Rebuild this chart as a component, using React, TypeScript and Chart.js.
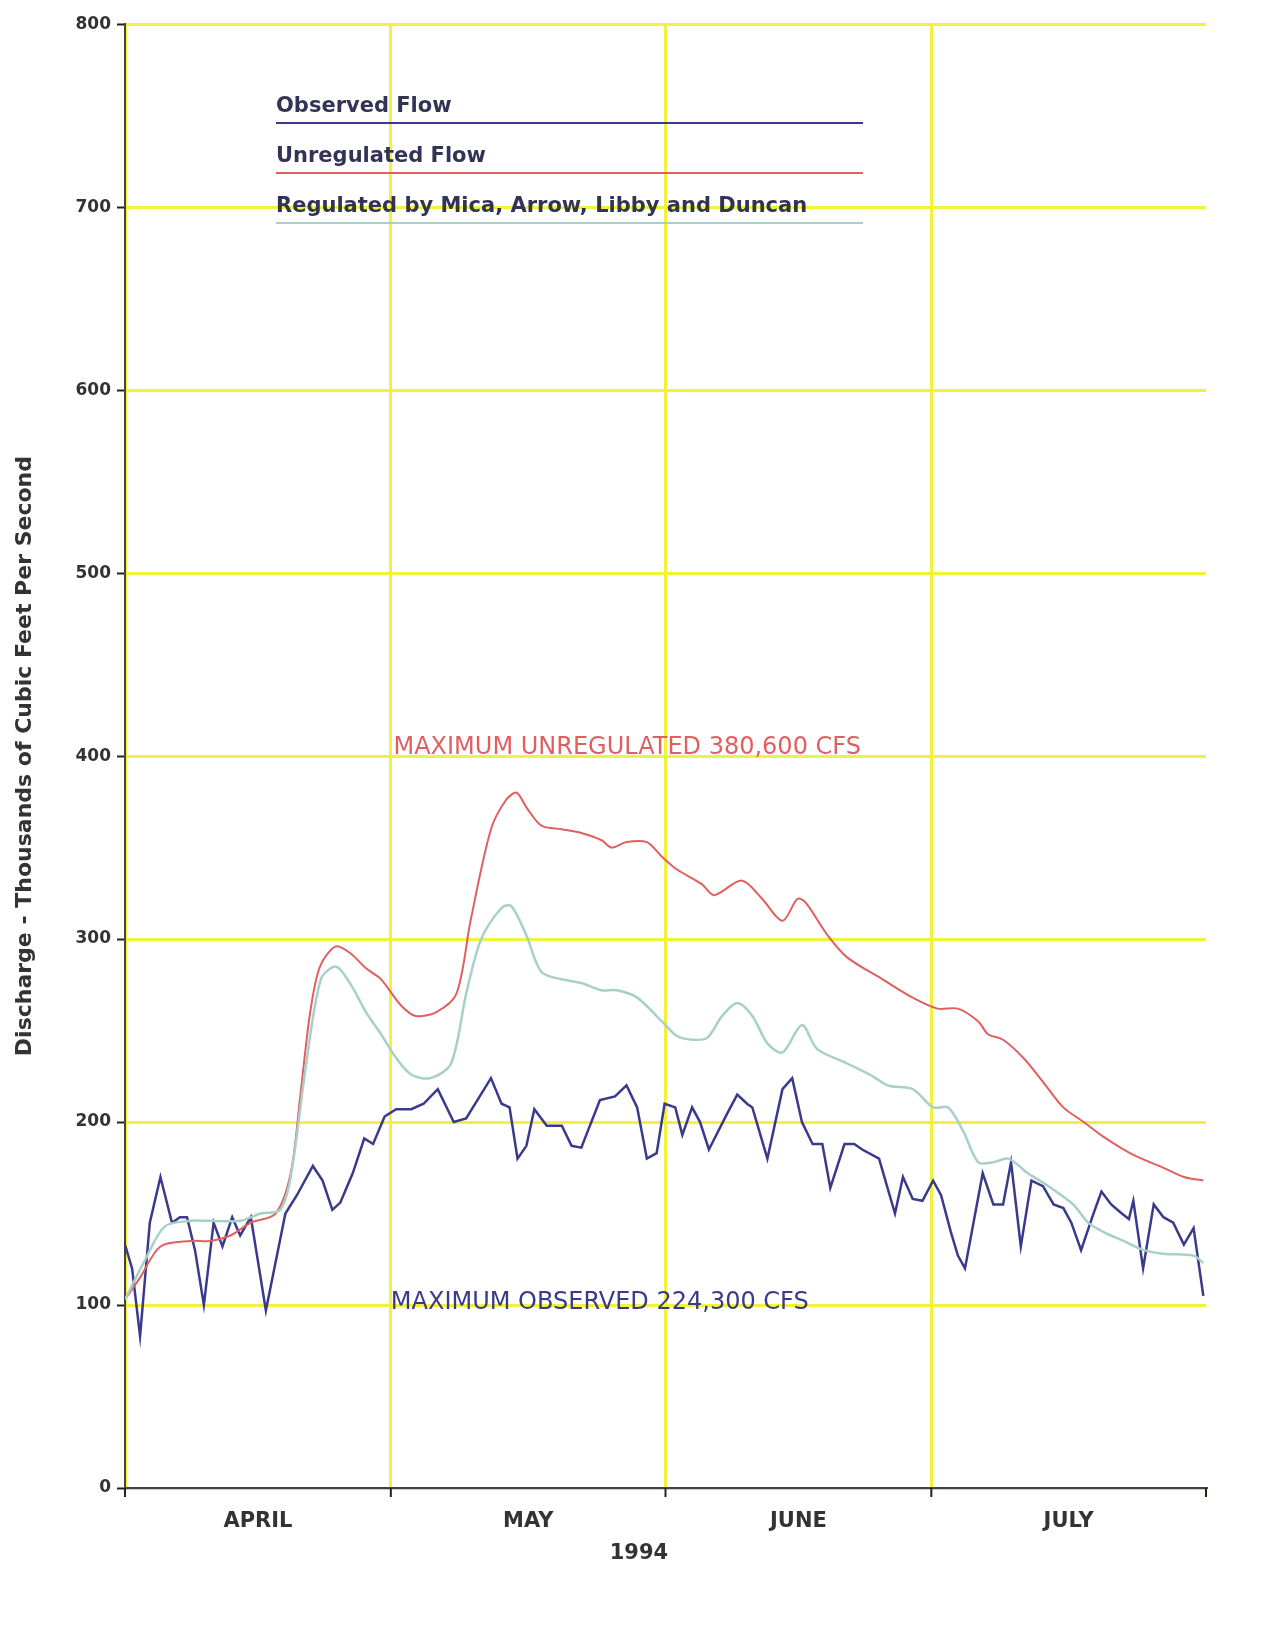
import React, { useEffect, useRef } from "react";
import { Chart, registerables } from "chart.js";
Chart.register(...registerables);

const obsDays = [0,0.8,1.7,2.8,4,5.3,6.2,7,7.9,8.9,10,11,12.1,13,14.2,15.9,18.1,19.4,21.2,22.3,23.4,24.3,25.7,27,28,29.3,30.6,32.3,33.7,35.3,37.1,38.5,41.3,42.5,43.4,44.3,45.3,46.2,47.6,49.3,50.4,51.5,53.6,55.3,56.6,57.8,58.9,60,60.9,62.1,62.9,64,64.9,65.9,68,69.1,70.2,70.8,72.5,74.2,75.3,76.4,77.6,78.7,79.6,81.2,82.3,83.2,85.1,86.9,87.8,88.9,90,91.2,92.1,93.2,94,94.8,96.8,98,99.1,100,101.1,102.3,103.6,104.8,105.9,106.8,107.9,109.3,110.2,111.3,112.5,113.3,113.8,114.9,116.1,117.2,118.3,119.5,120.6,121.7];
const obsValues = [133,120,83,145,170,145,148,148,130,100,145,132,148,138,148,97,150,160,176,168,152,156,172,191,188,203,207,207,210,218,200,202,224,210,208,180,187,207,198,198,187,186,212,214,220,208,180,183,210,208,193,208,200,185,205,215,210,208,180,218,224,200,188,188,164,188,188,185,180,150,170,158,157,168,160,140,127,120,172,155,155,178,132,168,165,155,153,145,130,150,162,155,150,147,157,120,155,148,145,133,142,105];

const unregDays = [0,1.7,4,7.4,9.6,11.9,14.2,17,18.7,19.8,20.9,22,23.8,25.5,27.2,28.9,31.1,32.8,35.1,37.4,39,41.3,43,44.2,45.3,47,49.3,51.5,53.8,54.9,56.6,58.9,60.6,62.3,65.1,66.5,69.6,71.9,74.2,75.9,76.8,79.3,81.5,85.5,88.9,91.7,94,96.3,97.4,99.1,101.4,103.6,105.9,108.2,110.4,113.8,117.2,119.5,121.7];
const unregValues = [103,115,132,135,135,138,145,150,172,215,260,285,296,292,284,278,264,258,260,270,310,360,376,380,372,362,360,358,354,350,353,353,345,338,330,324,332,322,310,322,320,302,290,278,268,262,262,255,248,245,235,222,208,200,192,182,175,170,168];

const regDays = [0,2.3,4.5,7.4,9.6,13,15.3,17.5,18.7,20.4,22.1,23.8,25.5,27.2,28.9,30.6,32.3,34.5,36.8,38.5,40.2,42.5,43.6,45.3,47,49.3,51.5,53.8,55.5,57.8,60.6,62.3,64,65.7,67.4,69.1,70.8,72.5,74.2,76.4,78.1,81.5,84.4,86.1,88.9,91.2,92.9,94.6,96.3,98,99.7,101.9,104.2,107,108.7,110.4,112.7,115,117.2,120.6,121.7];
const regValues = [103,125,143,146,146,146,150,152,170,230,278,285,275,260,248,235,226,224,232,270,300,317,318,302,282,278,276,272,272,268,255,247,245,246,258,265,258,243,238,253,240,232,225,220,218,208,208,195,178,178,180,172,165,155,145,140,135,130,128,127,123];

const monthStarts = [0, 30, 61, 91, 122];
const monthLabels = ["APRIL", "MAY", "JUNE", "JULY"];
const yTicks = [0, 100, 200, 300, 400, 500, 600, 700, 800];
const legendLabels = ["Observed Flow", "Unregulated Flow", "Regulated by Mica, Arrow, Libby and Duncan"];

const BLUE = "#3a3a8c";
const RED = "#e06060";
const GREEN = "#a8d0c8";
const FONT = "'DejaVu Sans', sans-serif";

const pts = (d: number[], v: number[]) => d.map((x, i) => ({ x, y: v[i] }));

export default function App() {
  const ref = useRef<HTMLCanvasElement>(null);
  useEffect(() => {
    const overlay = {
      id: "overlay",
      afterDraw(chart: any) {
        const { ctx, scales } = chart;
        const xs = scales.x, ys = scales.y;
        ctx.save();
        const legColors = [BLUE, RED, GREEN];
        const legY = [107, 157, 207];
        ctx.font = `bold 21px ${FONT}`;
        ctx.textBaseline = "middle";
        legendLabels.forEach((t, i) => {
          ctx.fillStyle = "#333355";
          ctx.fillText(t, 268, legY[i] - 8);
          ctx.strokeStyle = legColors[i];
          ctx.lineWidth = 2;
          ctx.beginPath();
          ctx.moveTo(268, legY[i] + 8);
          ctx.lineTo(855, legY[i] + 8);
          ctx.stroke();
        });
        ctx.font = `24px ${FONT}`;
        ctx.fillStyle = RED;
        ctx.fillText("MAXIMUM UNREGULATED 380,600 CFS", xs.getPixelForValue(30.3), ys.getPixelForValue(400) - 8);
        ctx.fillStyle = BLUE;
        ctx.fillText("MAXIMUM OBSERVED 224,300 CFS", xs.getPixelForValue(30), ys.getPixelForValue(100) - 2);
        ctx.fillStyle = "#333";
        ctx.font = `bold 21px ${FONT}`;
        ctx.textAlign = "center";
        monthLabels.forEach((m, i) => {
          const c = (monthStarts[i] + monthStarts[i + 1]) / 2;
          ctx.fillText(m, xs.getPixelForValue(c), ys.bottom + 34);
        });
        ctx.fillText("1994", xs.getPixelForValue(58), ys.bottom + 66);
        ctx.strokeStyle = "#222";
        ctx.lineWidth = 2;
        monthStarts.forEach((d) => {
          const px = xs.getPixelForValue(d);
          ctx.beginPath();
          ctx.moveTo(px, ys.bottom);
          ctx.lineTo(px, ys.bottom + 9);
          ctx.stroke();
        });
        ctx.restore();
      },
    };
    const chart = new Chart(ref.current!, {
      type: "line",
      data: {
        datasets: [
          { data: pts(regDays, regValues), borderColor: GREEN, borderWidth: 2.5, pointRadius: 0, tension: 0.3 },
          { data: pts(unregDays, unregValues), borderColor: RED, borderWidth: 2, pointRadius: 0, tension: 0.3 },
          { data: pts(obsDays, obsValues), borderColor: BLUE, borderWidth: 2.5, pointRadius: 0, tension: 0 },
        ],
      },
      options: {
        animation: false,
        responsive: false,
        layout: { padding: { top: 10, right: 52, left: 0, bottom: 0 } },
        plugins: { legend: { display: false }, tooltip: { enabled: false } },
        scales: {
          x: {
            type: "linear",
            min: 0,
            max: 122,
            afterBuildTicks: (s: any) => { s.ticks = monthStarts.map((v) => ({ value: v })); },
            afterFit: (s: any) => { s.height = 110; },
            ticks: { callback: () => "" },
            grid: { color: (c: any) => (c.tick && c.tick.value === 122 ? "rgba(0,0,0,0)" : "#f2f23a"), lineWidth: 3, drawTicks: false },
            border: { color: "#444", width: 2 },
          },
          y: {
            min: 0,
            max: 800,
            afterBuildTicks: (s: any) => { s.ticks = yTicks.map((v) => ({ value: v })); },
            afterFit: (s: any) => { s.width = 117; },
            ticks: { color: "#333", font: { family: FONT, size: 17, weight: "bold" }, padding: 6 },
            grid: { color: (c: any) => (c.tick && c.tick.value === 0 ? "#d8d870" : "#f2f23a"), lineWidth: 3, tickColor: "#222", tickLength: 8, tickWidth: 2 },
            border: { color: "#444", width: 2 },
            title: { display: true, text: "Discharge - Thousands of Cubic Feet Per Second", color: "#333", font: { family: FONT, size: 22, weight: "bold" }, padding: { bottom: 18 } },
          },
        },
      },
      plugins: [overlay],
    } as any);
    return () => chart.destroy();
  }, []);
  return <canvas ref={ref} width={1250} height={1590} style={{ display: "block" }} />;
}
